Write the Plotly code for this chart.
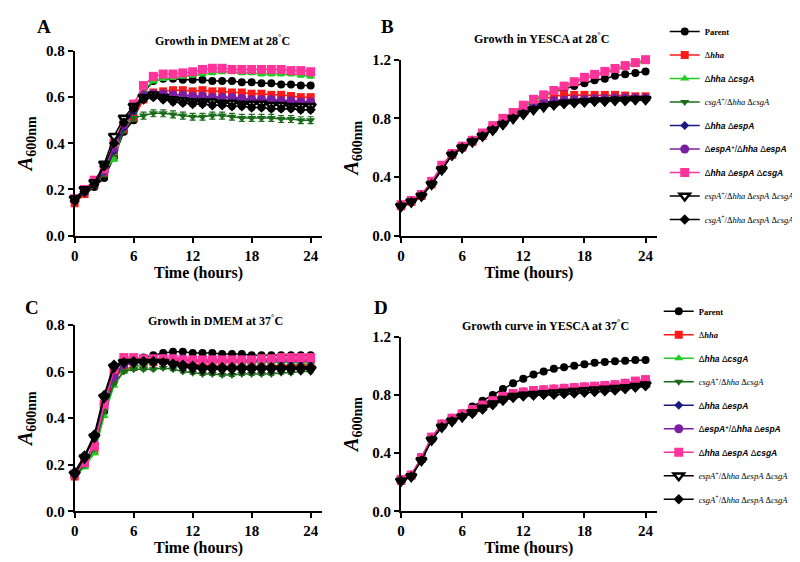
import plotly.graph_objects as go

hours = list(range(25))

series_names = [
    "Parent", "hha", "hha_csgA", "csgA_comp", "hha_espA",
    "espA_comp", "hha_espA_csgA", "espA_comp_triple", "csgA_comp_triple",
]

legend_labels = [
    "<span style='font-family:Liberation Serif'><b>Parent</b></span>",
    "<span style='font-family:Liberation Serif'>Δ<b><i>hha</i></b></span>",
    "Δ<b><i>hha</i></b> Δ<b><i>csgA</i></b>",
    "<span style='font-family:Liberation Serif'><i>csgA</i><sup>+</sup>/Δ<i>hha</i> Δ<i>csgA</i></span>",
    "Δ<b><i>hha</i></b> Δ<b><i>espA</i></b>",
    "Δ<b><i>espA</i><sup>+</sup></b>/Δ<b><i>hha</i></b> Δ<b><i>espA</i></b>",
    "Δ<b><i>hha</i></b> Δ<b><i>espA</i></b> Δ<b><i>csgA</i></b>",
    "<span style='font-family:Liberation Serif'><i>espA</i><sup>+</sup>/Δ<i>hha</i> Δ<i>espA</i> Δ<i>csgA</i></span>",
    "<span style='font-family:Liberation Serif'><i>csgA</i><sup>+</sup>/Δ<i>hha</i> Δ<i>espA</i> Δ<i>csgA</i></span>",
]

# Panel A: DMEM at 28 C
dmem28 = {
    "Parent": [0.15, 0.18, 0.21, 0.25, 0.34, 0.45, 0.50, 0.62, 0.67, 0.68, 0.68, 0.675, 0.675, 0.675, 0.67, 0.67, 0.67, 0.665, 0.665, 0.66, 0.66, 0.655, 0.655, 0.65, 0.65],
    "hha": [0.14, 0.18, 0.22, 0.27, 0.36, 0.46, 0.51, 0.59, 0.62, 0.625, 0.63, 0.63, 0.625, 0.63, 0.625, 0.625, 0.62, 0.62, 0.615, 0.615, 0.61, 0.61, 0.605, 0.60, 0.60],
    "hha_csgA": [0.15, 0.19, 0.23, 0.28, 0.33, 0.47, 0.54, 0.63, 0.67, 0.68, 0.685, 0.69, 0.695, 0.70, 0.705, 0.71, 0.71, 0.705, 0.705, 0.70, 0.70, 0.70, 0.70, 0.695, 0.69],
    "csgA_comp": [0.15, 0.19, 0.22, 0.27, 0.36, 0.46, 0.51, 0.52, 0.53, 0.53, 0.525, 0.52, 0.515, 0.515, 0.52, 0.52, 0.515, 0.51, 0.51, 0.51, 0.51, 0.505, 0.505, 0.50, 0.50],
    "hha_espA": [0.15, 0.19, 0.22, 0.28, 0.37, 0.47, 0.54, 0.60, 0.61, 0.61, 0.605, 0.60, 0.60, 0.60, 0.60, 0.60, 0.595, 0.59, 0.59, 0.585, 0.585, 0.58, 0.58, 0.575, 0.575],
    "espA_comp": [0.16, 0.19, 0.23, 0.28, 0.38, 0.48, 0.55, 0.61, 0.615, 0.615, 0.61, 0.61, 0.605, 0.605, 0.60, 0.60, 0.60, 0.595, 0.59, 0.59, 0.59, 0.585, 0.585, 0.58, 0.58],
    "hha_espA_csgA": [0.16, 0.20, 0.24, 0.29, 0.40, 0.50, 0.57, 0.65, 0.69, 0.70, 0.70, 0.705, 0.71, 0.72, 0.725, 0.725, 0.72, 0.72, 0.72, 0.72, 0.72, 0.72, 0.715, 0.715, 0.71],
    "espA_comp_triple": [0.16, 0.20, 0.23, 0.31, 0.43, 0.51, 0.56, 0.60, 0.61, 0.60, 0.59, 0.585, 0.58, 0.58, 0.58, 0.575, 0.575, 0.57, 0.57, 0.57, 0.565, 0.565, 0.56, 0.56, 0.56],
    "csgA_comp_triple": [0.15, 0.19, 0.22, 0.30, 0.40, 0.49, 0.55, 0.59, 0.60, 0.59, 0.58, 0.575, 0.57, 0.57, 0.565, 0.565, 0.56, 0.56, 0.555, 0.555, 0.55, 0.55, 0.55, 0.545, 0.545],
}

# Panel B: YESCA at 28 C
yesca28 = {
    "Parent": [0.20, 0.23, 0.27, 0.35, 0.46, 0.56, 0.60, 0.64, 0.68, 0.73, 0.78, 0.83, 0.88, 0.92, 0.95, 0.98, 1.00, 1.02, 1.04, 1.06, 1.07, 1.09, 1.10, 1.11, 1.12],
    "hha": [0.20, 0.23, 0.27, 0.35, 0.46, 0.55, 0.60, 0.64, 0.68, 0.73, 0.77, 0.82, 0.86, 0.90, 0.93, 0.95, 0.96, 0.96, 0.96, 0.96, 0.96, 0.96, 0.955, 0.95, 0.95],
    "hha_csgA": [0.20, 0.24, 0.28, 0.36, 0.47, 0.56, 0.60, 0.64, 0.69, 0.74, 0.79, 0.83, 0.88, 0.92, 0.95, 0.98, 1.01, 1.04, 1.07, 1.09, 1.11, 1.13, 1.15, 1.17, 1.19],
    "csgA_comp": [0.20, 0.23, 0.27, 0.35, 0.45, 0.55, 0.60, 0.64, 0.68, 0.72, 0.76, 0.80, 0.84, 0.87, 0.89, 0.90, 0.91, 0.915, 0.92, 0.92, 0.925, 0.925, 0.93, 0.93, 0.93],
    "hha_espA": [0.20, 0.23, 0.27, 0.35, 0.46, 0.55, 0.60, 0.64, 0.69, 0.73, 0.77, 0.81, 0.85, 0.88, 0.90, 0.91, 0.92, 0.92, 0.925, 0.93, 0.93, 0.93, 0.935, 0.935, 0.935],
    "espA_comp": [0.21, 0.24, 0.28, 0.36, 0.47, 0.56, 0.61, 0.65, 0.69, 0.74, 0.78, 0.82, 0.86, 0.89, 0.91, 0.92, 0.925, 0.93, 0.93, 0.935, 0.935, 0.94, 0.94, 0.94, 0.94],
    "hha_espA_csgA": [0.21, 0.24, 0.28, 0.37, 0.48, 0.56, 0.61, 0.65, 0.70, 0.75, 0.80, 0.84, 0.89, 0.93, 0.96, 0.99, 1.02, 1.05, 1.08, 1.10, 1.12, 1.14, 1.16, 1.18, 1.20],
    "espA_comp_triple": [0.20, 0.23, 0.27, 0.35, 0.45, 0.55, 0.60, 0.64, 0.68, 0.72, 0.76, 0.80, 0.83, 0.86, 0.88, 0.895, 0.905, 0.91, 0.915, 0.92, 0.92, 0.925, 0.925, 0.93, 0.93],
    "csgA_comp_triple": [0.20, 0.23, 0.27, 0.35, 0.45, 0.55, 0.60, 0.64, 0.68, 0.72, 0.76, 0.80, 0.83, 0.86, 0.88, 0.89, 0.90, 0.905, 0.91, 0.915, 0.915, 0.92, 0.92, 0.925, 0.925],
}

# Panel C: DMEM at 37 C
dmem37 = {
    "Parent": [0.15, 0.20, 0.28, 0.43, 0.56, 0.63, 0.65, 0.66, 0.67, 0.68, 0.685, 0.685, 0.68, 0.68, 0.68, 0.675, 0.675, 0.675, 0.67, 0.67, 0.67, 0.67, 0.67, 0.67, 0.67],
    "hha": [0.15, 0.20, 0.26, 0.45, 0.57, 0.61, 0.62, 0.63, 0.64, 0.645, 0.64, 0.635, 0.63, 0.63, 0.625, 0.62, 0.62, 0.62, 0.62, 0.62, 0.625, 0.625, 0.63, 0.63, 0.63],
    "hha_csgA": [0.15, 0.19, 0.25, 0.41, 0.54, 0.60, 0.62, 0.63, 0.64, 0.645, 0.645, 0.645, 0.645, 0.64, 0.64, 0.64, 0.64, 0.64, 0.64, 0.64, 0.64, 0.64, 0.64, 0.64, 0.64],
    "csgA_comp": [0.15, 0.20, 0.27, 0.43, 0.55, 0.60, 0.61, 0.61, 0.61, 0.615, 0.61, 0.60, 0.595, 0.59, 0.59, 0.585, 0.585, 0.59, 0.59, 0.59, 0.59, 0.595, 0.595, 0.60, 0.60],
    "hha_espA": [0.16, 0.21, 0.29, 0.47, 0.59, 0.63, 0.635, 0.64, 0.645, 0.65, 0.65, 0.65, 0.645, 0.645, 0.645, 0.645, 0.645, 0.645, 0.645, 0.645, 0.645, 0.645, 0.645, 0.645, 0.645],
    "espA_comp": [0.16, 0.21, 0.29, 0.46, 0.58, 0.63, 0.64, 0.645, 0.65, 0.655, 0.655, 0.655, 0.65, 0.65, 0.65, 0.65, 0.65, 0.65, 0.65, 0.65, 0.65, 0.65, 0.65, 0.65, 0.65],
    "hha_espA_csgA": [0.16, 0.21, 0.28, 0.46, 0.61, 0.66, 0.66, 0.655, 0.655, 0.655, 0.655, 0.65, 0.65, 0.65, 0.65, 0.65, 0.65, 0.65, 0.65, 0.655, 0.655, 0.66, 0.66, 0.66, 0.66],
    "espA_comp_triple": [0.16, 0.23, 0.32, 0.49, 0.62, 0.64, 0.64, 0.64, 0.64, 0.64, 0.63, 0.62, 0.615, 0.61, 0.61, 0.61, 0.61, 0.61, 0.61, 0.61, 0.61, 0.61, 0.61, 0.61, 0.61],
    "csgA_comp_triple": [0.17, 0.24, 0.33, 0.50, 0.63, 0.64, 0.645, 0.645, 0.645, 0.64, 0.635, 0.63, 0.625, 0.62, 0.62, 0.62, 0.62, 0.62, 0.62, 0.62, 0.62, 0.62, 0.62, 0.62, 0.62],
}

# Panel D: YESCA at 37 C
yesca37 = {
    "Parent": [0.21, 0.24, 0.36, 0.50, 0.59, 0.63, 0.67, 0.72, 0.76, 0.80, 0.84, 0.88, 0.91, 0.94, 0.96, 0.98, 0.99, 1.00, 1.01, 1.02, 1.025, 1.03, 1.035, 1.04, 1.04],
    "hha": [0.21, 0.25, 0.36, 0.50, 0.59, 0.63, 0.66, 0.69, 0.72, 0.75, 0.78, 0.80, 0.81, 0.82, 0.825, 0.83, 0.835, 0.84, 0.845, 0.85, 0.855, 0.86, 0.87, 0.89, 0.90],
    "hha_csgA": [0.21, 0.25, 0.36, 0.50, 0.59, 0.63, 0.66, 0.69, 0.72, 0.75, 0.78, 0.80, 0.81, 0.815, 0.82, 0.825, 0.83, 0.835, 0.84, 0.845, 0.85, 0.855, 0.86, 0.87, 0.88],
    "csgA_comp": [0.21, 0.25, 0.36, 0.50, 0.58, 0.62, 0.65, 0.68, 0.71, 0.74, 0.77, 0.79, 0.80, 0.805, 0.81, 0.815, 0.82, 0.825, 0.83, 0.835, 0.84, 0.845, 0.85, 0.86, 0.87],
    "hha_espA": [0.21, 0.25, 0.36, 0.50, 0.59, 0.63, 0.66, 0.69, 0.72, 0.75, 0.78, 0.80, 0.81, 0.82, 0.825, 0.83, 0.835, 0.84, 0.845, 0.85, 0.855, 0.86, 0.865, 0.875, 0.885],
    "espA_comp": [0.22, 0.25, 0.37, 0.51, 0.60, 0.64, 0.67, 0.70, 0.73, 0.76, 0.79, 0.81, 0.82, 0.83, 0.835, 0.84, 0.845, 0.85, 0.855, 0.86, 0.865, 0.87, 0.88, 0.89, 0.90],
    "hha_espA_csgA": [0.22, 0.25, 0.37, 0.51, 0.60, 0.64, 0.67, 0.70, 0.73, 0.76, 0.79, 0.81, 0.82, 0.83, 0.835, 0.84, 0.845, 0.85, 0.855, 0.86, 0.865, 0.87, 0.88, 0.895, 0.905],
    "espA_comp_triple": [0.21, 0.24, 0.35, 0.49, 0.58, 0.62, 0.65, 0.68, 0.71, 0.74, 0.77, 0.79, 0.80, 0.805, 0.81, 0.815, 0.82, 0.825, 0.83, 0.835, 0.84, 0.845, 0.85, 0.86, 0.87],
    "csgA_comp_triple": [0.21, 0.24, 0.35, 0.49, 0.58, 0.62, 0.65, 0.67, 0.70, 0.73, 0.76, 0.78, 0.79, 0.795, 0.80, 0.80, 0.805, 0.81, 0.815, 0.82, 0.825, 0.83, 0.84, 0.85, 0.86],
}

# approximate error (SD) per series, per panel
sd_dmem28 = [0.008, 0.01, 0.008, 0.015, 0.01, 0.01, 0.008, 0.01, 0.01]
sd_other = [0.006] * 9

colors = ["#000000", "#ff1a1a", "#22cc22", "#1a6b1a", "#1a1a80", "#7a1fa2", "#ff3399", "#000000", "#000000"]
symbols = ["circle", "square", "triangle-up", "triangle-down", "diamond", "circle", "square", "triangle-down", "diamond"]
sizes = [8, 8, 8, 8, 7, 9, 9, 9, 8]
fills = ["#000000", "#ff1a1a", "#22cc22", "#1a6b1a", "#1a1a80", "#7a1fa2", "#ff3399", "#ffffff", "#000000"]

panels = [
    ("x", "y", dmem28, sd_dmem28, None),
    ("x2", "y2", yesca28, sd_other, "legend"),
    ("x3", "y3", dmem37, sd_other, None),
    ("x4", "y4", yesca37, sd_other, "legend2"),
]

fig = go.Figure()
for xa, ya, data, sds, leg in panels:
    for i, key in enumerate(series_names):
        fig.add_trace(go.Scatter(
            x=hours, y=data[key], xaxis=xa, yaxis=ya,
            mode="lines+markers", name=legend_labels[i],
            line=dict(color=colors[i], width=1.5),
            marker=dict(symbol=symbols[i], size=sizes[i], color=fills[i],
                        line=dict(color=colors[i], width=2.5 if i == 7 else 0)),
            error_y=dict(type="constant", value=sds[i], color=colors[i], thickness=1.2, width=3),
            showlegend=leg is not None, legend=leg if leg else "legend",
            legendgroup=(leg or "") + key, cliponaxis=False,
        ))

W, H = 800, 562
def xd(a, b):
    return [a / W, b / W]
def yd(bottom, top):
    return [1 - bottom / H, 1 - top / H]

tickfont = dict(family="Liberation Serif", size=15, color="black", weight="bold")
xtitlefont = dict(family="Liberation Serif", size=16, color="black", weight="bold")
ytitlefont = dict(family="Liberation Serif", size=20, color="black", weight="bold")
ytitle = "<i>A</i><sub>600nm</sub>"

def xaxis(dom, anchor, rng):
    return dict(domain=dom, anchor=anchor, range=rng, tickvals=[0, 6, 12, 18, 24],
                showline=True, linewidth=2, linecolor="black", ticks="outside",
                ticklen=5, tickwidth=2, tickcolor="black", showgrid=False, zeroline=False,
                tickfont=tickfont, title=dict(text="Time (hours)", font=xtitlefont, standoff=2))

def yaxis(dom, anchor, rng, tv):
    return dict(domain=dom, anchor=anchor, range=rng, tickvals=tv,
                ticktext=[f"{v:.1f}" for v in tv],
                showline=True, linewidth=2, linecolor="black", ticks="outside",
                ticklen=5, tickwidth=2, tickcolor="black", showgrid=False, zeroline=False,
                tickfont=tickfont, title=dict(text=ytitle, font=ytitlefont, standoff=8))

ticks08 = [0.0, 0.2, 0.4, 0.6, 0.8]
ticks12 = [0.0, 0.4, 0.8, 1.2]

fig.update_layout(
    width=W, height=H, margin=dict(l=0, r=0, t=0, b=0),
    paper_bgcolor="white", plot_bgcolor="white",
    xaxis=xaxis(xd(63, 312), "y", [0, 25.2]),
    yaxis=yaxis(yd(226, 36), "x", [0, 0.8], ticks08),
    xaxis2=xaxis(xd(391, 648), "y2", [0, 25.1]),
    yaxis2=yaxis(yd(226, 45), "x2", [0, 1.2], ticks12),
    xaxis3=xaxis(xd(63, 312), "y3", [0, 25.2]),
    yaxis3=yaxis(yd(510, 318), "x3", [0, 0.8], ticks08),
    xaxis4=xaxis(xd(391, 648), "y4", [0, 25.1]),
    yaxis4=yaxis(yd(510, 330), "x4", [0, 1.2], ticks12),
    legend=dict(x=656 / W, y=1 - 1 / H, xanchor="left", yanchor="top",
                font=dict(family="Liberation Sans", size=8.5, color="black"),
                tracegroupgap=4.5, itemwidth=30, bgcolor="rgba(0,0,0,0)"),
    legend2=dict(x=650 / W, y=1 - 289 / H, xanchor="left", yanchor="top",
                 font=dict(family="Liberation Sans", size=8.5, color="black"),
                 tracegroupgap=4.5, itemwidth=30, bgcolor="rgba(0,0,0,0)"),
)

title_font = dict(family="Liberation Serif", size=12, color="black", weight="bold")
letter_font = dict(family="Liberation Serif", size=19, color="black", weight="bold")
annots = [
    ("Growth in DMEM at 28<sup>°</sup>C", 212, 25, title_font),
    ("Growth in YESCA at 28<sup>°</sup>C", 532, 23, title_font),
    ("Growth in DMEM at 37<sup>°</sup>C", 205, 313, title_font),
    ("Growth curve in YESCA at 37<sup>°</sup>C", 536, 319, title_font),
    ("A", 32, 11, letter_font),
    ("B", 377, 11, letter_font),
    ("C", 20, 300, letter_font),
    ("D", 371, 300, letter_font),
]
for text, px, py, f in annots:
    fig.add_annotation(text=text, x=px / W, y=1 - py / H, xref="paper", yref="paper",
                       showarrow=False, font=f, xanchor="center", yanchor="middle")

fig.write_html("out.html")
